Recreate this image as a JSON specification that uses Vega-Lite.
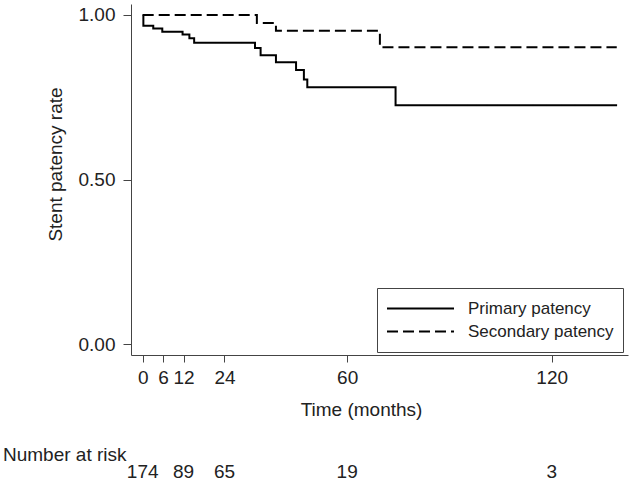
{
  "$schema": "https://vega.github.io/schema/vega-lite/v6.json",
  "width": 497,
  "height": 351,
  "autosize": {"type": "none"},
  "padding": {"left": 131, "top": 4, "right": 1, "bottom": 130},
  "background": "white",
  "config": {
    "view": {"stroke": null},
    "font": "Liberation Sans",
    "axis": {
      "grid": false,
      "domainColor": "#444",
      "tickColor": "#444",
      "labelColor": "#222",
      "titleColor": "#222",
      "labelFont": "Liberation Sans",
      "titleFont": "Liberation Sans",
      "labelFontSize": 19,
      "titleFontSize": 19,
      "titleFontWeight": "normal",
      "labelOverlap": false,
      "labelFlush": false
    },
    "legend": {"labelFont": "Liberation Sans"}
  },
  "datasets": {
    "curves": [
      {"curve": "Primary patency", "t": 0, "rate": 1.0},
      {"curve": "Primary patency", "t": 0.2, "rate": 0.967},
      {"curve": "Primary patency", "t": 3.1, "rate": 0.959},
      {"curve": "Primary patency", "t": 5.75, "rate": 0.949},
      {"curve": "Primary patency", "t": 11.7, "rate": 0.941},
      {"curve": "Primary patency", "t": 13.7, "rate": 0.929},
      {"curve": "Primary patency", "t": 15.1, "rate": 0.916},
      {"curve": "Primary patency", "t": 32.95, "rate": 0.9},
      {"curve": "Primary patency", "t": 34.6, "rate": 0.878},
      {"curve": "Primary patency", "t": 39.1, "rate": 0.856},
      {"curve": "Primary patency", "t": 45.0, "rate": 0.833},
      {"curve": "Primary patency", "t": 47.3, "rate": 0.804},
      {"curve": "Primary patency", "t": 48.3, "rate": 0.78},
      {"curve": "Primary patency", "t": 74.2, "rate": 0.726},
      {"curve": "Primary patency", "t": 139.2, "rate": 0.726},
      {"curve": "Secondary patency", "t": 0, "rate": 1.0},
      {"curve": "Secondary patency", "t": 33.5, "rate": 0.976},
      {"curve": "Secondary patency", "t": 39.1, "rate": 0.952},
      {"curve": "Secondary patency", "t": 69.6, "rate": 0.902},
      {"curve": "Secondary patency", "t": 139.1, "rate": 0.902}
    ],
    "risk": [
      {"t": 0, "n": 174},
      {"t": 12, "n": 89},
      {"t": 24, "n": 65},
      {"t": 60, "n": 19},
      {"t": 120, "n": 3}
    ],
    "risklabel": [
      {"label": "Number at risk"}
    ]
  },
  "layer": [
    {
      "data": {"name": "curves"},
      "mark": {"type": "line", "interpolate": "step-after", "strokeWidth": 2, "color": "black", "strokeCap": "butt"},
      "encoding": {
        "x": {
          "field": "t",
          "type": "quantitative",
          "scale": {"domain": [-3.43, 142.4], "nice": false, "zero": false},
          "axis": {
            "values": [0, 6, 12, 24, 60, 120],
            "title": "Time (months)",
            "tickSize": 7,
            "labelPadding": 6,
            "titleX": 230,
            "titleY": 45,
            "titleBaseline": "top"
          }
        },
        "y": {
          "field": "rate",
          "type": "quantitative",
          "scale": {"domain": [-0.0334, 1.0334], "nice": false, "zero": false},
          "axis": {
            "values": [0, 0.5, 1],
            "format": ".2f",
            "title": "Stent patency rate",
            "tickSize": 8,
            "labelPadding": 8,
            "titleX": -66,
            "titleY": 160
          }
        },
        "strokeDash": {
          "field": "curve",
          "type": "nominal",
          "scale": {"domain": ["Primary patency", "Secondary patency"], "range": [[1, 0], [11, 5]]},
          "legend": {
            "title": null,
            "orient": "none",
            "legendX": 246,
            "legendY": 284,
            "fillColor": "white",
            "strokeColor": "#444",
            "padding": 9,
            "labelFontSize": 17,
            "labelColor": "#222",
            "labelOffset": 13,
            "symbolType": "stroke",
            "symbolSize": 4489,
            "symbolStrokeWidth": 2,
            "symbolStrokeColor": "black",
            "clipHeight": 23,
            "rowPadding": 0,
            "encode": {
              "symbols": {
                "update": {
                  "strokeDash": {"signal": "datum.value === 'Secondary patency' ? [8, 4.5] : [1, 0]"}
                }
              }
            }
          }
        }
      }
    },
    {
      "data": {"name": "risk"},
      "mark": {"type": "text", "fontSize": 19, "font": "Liberation Sans", "color": "#222", "align": "center", "baseline": "alphabetic"},
      "encoding": {
        "x": {"field": "t", "type": "quantitative"},
        "y": {"datum": -0.407},
        "text": {"field": "n", "type": "quantitative"}
      }
    },
    {
      "data": {"name": "risklabel"},
      "mark": {"type": "text", "fontSize": 19, "font": "Liberation Sans", "color": "#222", "align": "left", "baseline": "alphabetic"},
      "encoding": {
        "x": {"datum": -41},
        "y": {"datum": -0.357},
        "text": {"field": "label", "type": "nominal"}
      }
    }
  ]
}
